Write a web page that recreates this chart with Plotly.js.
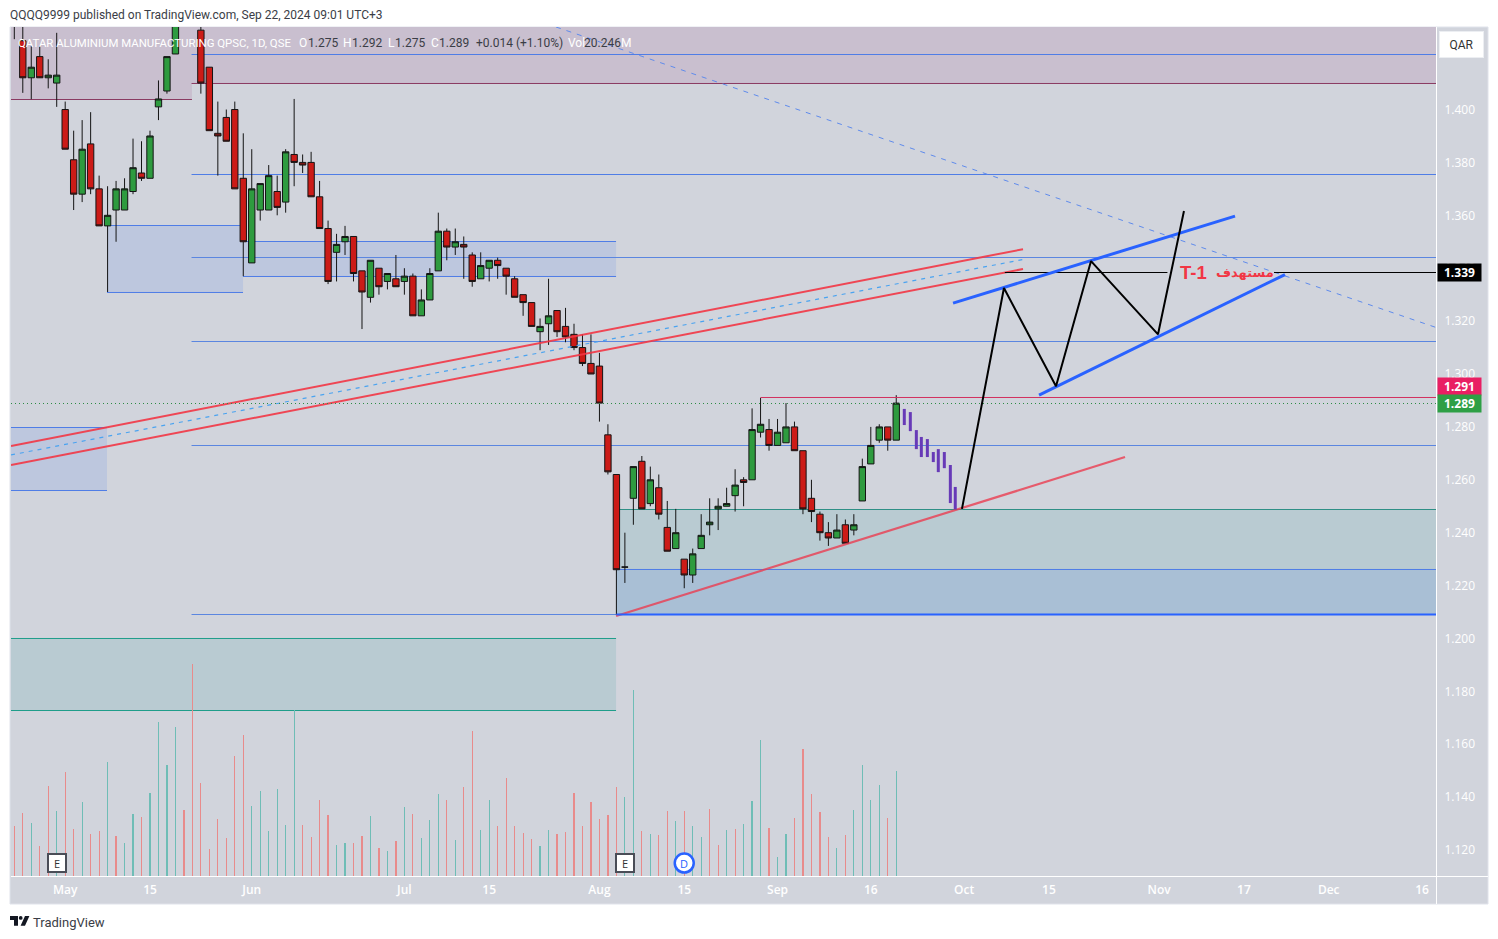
<!DOCTYPE html>
<html><head><meta charset="utf-8">
<script src="https://cdn.plot.ly/plotly-3.0.0.min.js"></script>
<style>html,body{margin:0;padding:0;background:#fff}#c{width:1498px;height:939px}</style>
</head><body><div id="c"></div>
<script>
// --- candles (bar index 0 = first visible session, late April 2024) ---
const opens=[1.440,1.426,1.412,1.420,1.412,1.410,1.400,1.381,1.368,1.387,1.370,1.356,1.362,1.362,1.369,1.376,1.374,1.401,1.407,1.421,1.450,1.445,1.430,1.416,1.391,1.397,1.400,1.374,1.342,1.362,1.362,1.369,1.365,1.383,1.380,1.380,1.367,1.355,1.346,1.350,1.352,1.339,1.329,1.340,1.335,1.336,1.335,1.337,1.322,1.328,1.339,1.354,1.348,1.349,1.345,1.336,1.340,1.343,1.340,1.336,1.330,1.327,1.316,1.319,1.324,1.318,1.315,1.310,1.304,1.303,1.277,1.262,1.227,1.253,1.267,1.251,1.257,1.242,1.234,1.230,1.224,1.234,1.243,1.249,1.250,1.254,1.260,1.260,1.278,1.279,1.273,1.274,1.280,1.271,1.253,1.247,1.240,1.238,1.243,1.241,1.252,1.266,1.275,1.280,1.275];
const highs=[1.445,1.436,1.424,1.424,1.419,1.429,1.403,1.392,1.396,1.399,1.375,1.371,1.373,1.374,1.389,1.388,1.392,1.411,1.420,1.440,1.452,1.447,1.435,1.416,1.403,1.400,1.403,1.391,1.385,1.372,1.379,1.375,1.385,1.404,1.383,1.384,1.373,1.358,1.353,1.356,1.352,1.339,1.343,1.340,1.338,1.345,1.340,1.338,1.332,1.340,1.361,1.355,1.355,1.352,1.346,1.346,1.343,1.344,1.340,1.337,1.330,1.327,1.321,1.336,1.324,1.325,1.319,1.315,1.315,1.308,1.281,1.262,1.240,1.265,1.269,1.265,1.262,1.252,1.249,1.230,1.234,1.247,1.253,1.253,1.257,1.264,1.261,1.287,1.291,1.283,1.283,1.289,1.282,1.271,1.260,1.248,1.244,1.247,1.245,1.247,1.268,1.280,1.281,1.280,1.292];
const lows=[1.4266,1.4063,1.4039,1.4121,1.408,1.401,1.385,1.362,1.365,1.368,1.356,1.331,1.350,1.362,1.368,1.373,1.374,1.396,1.406,1.421,1.435,1.433,1.406,1.392,1.375,1.388,1.370,1.337,1.342,1.358,1.362,1.360,1.361,1.371,1.376,1.367,1.355,1.334,1.335,1.345,1.335,1.317,1.327,1.330,1.332,1.333,1.330,1.322,1.322,1.328,1.339,1.343,1.345,1.336,1.333,1.336,1.335,1.336,1.330,1.329,1.322,1.318,1.309,1.311,1.314,1.312,1.309,1.303,1.300,1.282,1.262,1.209,1.221,1.243,1.249,1.250,1.245,1.233,1.234,1.219,1.221,1.234,1.239,1.241,1.250,1.248,1.250,1.260,1.276,1.271,1.273,1.274,1.271,1.247,1.244,1.237,1.235,1.238,1.236,1.239,1.252,1.266,1.274,1.271,1.275];
const closes=[1.435,1.412,1.416,1.412,1.413,1.413,1.385,1.368,1.385,1.370,1.356,1.360,1.370,1.370,1.378,1.374,1.390,1.404,1.420,1.436,1.440,1.440,1.410,1.392,1.390,1.388,1.370,1.350,1.370,1.372,1.375,1.363,1.384,1.380,1.379,1.367,1.355,1.335,1.349,1.352,1.338,1.331,1.343,1.333,1.338,1.333,1.337,1.322,1.328,1.338,1.354,1.348,1.350,1.348,1.335,1.341,1.343,1.341,1.337,1.329,1.327,1.318,1.318,1.322,1.316,1.314,1.310,1.304,1.300,1.289,1.263,1.226,1.227,1.265,1.249,1.260,1.247,1.233,1.240,1.224,1.232,1.239,1.244,1.250,1.251,1.258,1.259,1.279,1.281,1.273,1.278,1.280,1.271,1.249,1.248,1.240,1.238,1.241,1.236,1.243,1.265,1.273,1.280,1.275,1.289];
// --- volume in millions ---
const volumes=[9.6,12.2,10.2,5.8,17.4,12.5,20.1,9.1,14.3,8.1,8.7,22.0,7.7,6.4,12.0,11.4,16.0,29.7,21.4,28.7,12.7,40.9,17.9,5.2,11.0,7.3,23.1,27.2,13.5,16.4,8.7,16.8,9.8,32.0,9.8,7.5,14.7,11.8,6.0,6.4,6.4,7.7,11.6,5.4,4.8,6.8,13.3,12.0,7.3,10.8,15.8,14.7,6.9,17.2,28.0,8.9,14.7,9.6,18.9,9.6,8.3,7.1,5.8,8.9,8.1,8.5,16.0,9.6,14.3,11.0,11.8,17.2,15.2,35.9,8.7,8.1,7.9,12.5,10.6,12.5,9.6,7.5,12.9,6.0,8.9,9.1,10.0,14.5,26.2,9.3,3.7,8.1,11.2,24.5,15.8,12.3,7.5,5.4,7.9,12.7,21.4,14.7,17.6,11.2,20.2];
const volumeDirs=("rrgrrgrrgr"+"rgrggrgggg"+"rrrrrrrrgg"+"ggggrrrrgg"+"rrgrgrgrgg"+"grgrrggrrr"+"rrggrrrrrr"+"rrggrgrrgr"+"ggrrgrgggr"+"ggrrrrrgrg"+"gggrg").split("");
const volColors={r:"#e88b8b",g:"#6fbdb6"};
// --- axis labels ---
const xTickIndex=[6,16,28,46,56,69,79,90,101,112,122,135,145,155,166];
const xTickLabels=["May","15","Jun","Jul","15","Aug","15","Sep","16","Oct","15","Nov","17","Dec","16"];
const yTicks=[1.12,1.14,1.16,1.18,1.20,1.22,1.24,1.26,1.28,1.30,1.32,1.34,1.36,1.38,1.40];
const xMin=-0.39,xMax=167.65,yMin=1.1102,yMax=1.4312,volMax=163.85;
// --- zones: x0,x1,yTop,yBottom (in bar index / price) ---
const zoneX0=[-0.39,20.95,10.93,26.97,-0.39,-0.39,70.96,70.96];
const zoneX1=[20.95,167.65,26.97,70.96,10.93,70.96,167.65,167.65];
const zoneTop=[1.4312,1.4312,1.35615,1.3501,1.27977,1.2000,1.24877,1.22609];
const zoneBottom=[1.40379,1.40984,1.33082,1.33687,1.25595,1.17277,1.22609,1.20907];
const zoneFill=["#c9bfcf","#c9bfcf","#bdc7de","#bdc7de","#bdc7de","#b9cbd2","#b9cbd2","#a9bfd5"];
// --- horizontal levels ---
const levelY=[1.40379,1.40984,1.4208,1.37543,1.34405,1.31229,1.27297,1.20907,1.35615,1.33082,1.3501,1.33687,1.27977,1.25595,1.2000,1.17277,1.24877,1.22609];
const levelX0=[-0.39,20.9,20.9,20.9,20.9,20.9,20.9,20.9,10.93,10.93,26.97,26.97,-0.39,-0.39,-0.39,-0.39,70.96,70.96];
const levelX1=[20.95,167.65,167.65,167.65,167.65,167.65,167.65,70.96,26.6,26.97,70.96,70.96,10.93,10.93,70.96,70.96,167.65,167.65];
const levelColor=["#8a3a62","#8a3a62","#4f7de6","#4f7de6","#5b86e0","#5b86e0","#5b86e0","#5b86e0","#4f7de6","#4f7de6","#4f7de6","#4f7de6","#4f7de6","#4f7de6","#1f9d8a","#1f9d8a","#2f8f86","#4f7de6"];
// --- drawings ---
const channelX=[-0.39,118.95];
const redUpperY=[1.2728,1.3472];
const redLowerY=[1.2656,1.3397];
const midDashY=[1.2694,1.3433];
const fallDashX=[63.88,167.65];
const fallDashY=[1.4312,1.3176];
const zigzagX=[111.75,116.7,122.84,126.97,134.87,137.93];
const zigzagY=[1.2490,1.3325,1.2954,1.3427,1.3150,1.3616];
const blueTopX=[110.7,143.95],blueTopY=[1.3268,1.3597];
const blueBotX=[120.84,149.84],blueBotY=[1.2920,1.3376];
const redTrendX=[70.96,130.98],redTrendY=[1.2085,1.2686];
const baseLineX=[71,167.65],baseLineY=[1.2091,1.2091];
const targetLeftX=[116.8,135.98],targetRightX=[148.55,167.65],targetY=1.33838;
const resistX=[88,167.65],resistY=[1.29112,1.29112];
const lastX=[-0.39,167.65],lastY=[1.28885,1.28885];
const ghostX=[104.95,105.66,106.37,106.96,107.67,108.37,108.96,109.67,110.38,110.96];
const ghostHigh=[1.2868,1.2856,1.2788,1.2762,1.2754,1.2705,1.2716,1.2705,1.2656,1.2573];
const ghostLow=[1.2807,1.2784,1.2716,1.2686,1.2686,1.2667,1.2629,1.2644,1.2512,1.2488];

const idx=opens.map((_,i)=>i);
const px=p=>(p-11)/1425, py=p=>(876-p)/849;
const line=(x,y,color,width,dash)=>({type:'scatter',mode:'lines',x,y,xaxis:'x',yaxis:'y2',hoverinfo:'skip',showlegend:false,line:{color,width,dash:dash||'solid'}});
const ghostXs=[],ghostYs=[];
ghostX.forEach((x,i)=>{ghostXs.push(x,x,null);ghostYs.push(ghostHigh[i],ghostLow[i],null);});

const traces=[
 {type:'bar',x:idx,y:volumes,xaxis:'x',yaxis:'y',width:0.14,marker:{color:volumeDirs.map(d=>volColors[d]),line:{width:0}},hoverinfo:'skip',showlegend:false},
 {type:'candlestick',x:idx,open:opens,high:highs,low:lows,close:closes,xaxis:'x',yaxis:'y2',showlegend:false,hoverinfo:'skip',
  increasing:{line:{color:'#141414',width:1},fillcolor:'#2e9b3f'},
  decreasing:{line:{color:'#141414',width:1},fillcolor:'#cc1b17'}},
 line(channelX,redUpperY,'rgba(242,54,69,.9)',2),
 line(channelX,redLowerY,'rgba(242,54,69,.9)',2),
 line(channelX,midDashY,'#4aa3f0',1.2,'4px 5px'),
 line(fallDashX,fallDashY,'#5f8bec',1,'5px 6px'),
 line(redTrendX,redTrendY,'rgba(235,60,80,.8)',2.2),
 line(baseLineX,baseLineY,'#2962ff',2),
 line(resistX,resistY,'#d2305f',1),
 line(lastX,lastY,'#2e8b45',1,'1px 3px'),
 line(targetLeftX,[targetY,targetY],'#000',1),
 line(targetRightX,[targetY,targetY],'#000',1),
 line(ghostXs,ghostYs,'#673ab7',3),
 line(blueTopX,blueTopY,'#2962ff',3),
 line(blueBotX,blueBotY,'#2962ff',3),
 line(zigzagX,zigzagY,'#000',2)
];

const shapes=[
 {type:'rect',xref:'paper',yref:'paper',x0:px(10),x1:px(1488),y0:py(904),y1:py(27),fillcolor:'#d1d4dc',line:{color:'#e0e3eb',width:1},layer:'below'}
];
zoneX0.forEach((x,i)=>shapes.push({type:'rect',xref:'x',yref:'y2',x0:x,x1:zoneX1[i],y0:zoneBottom[i],y1:zoneTop[i],fillcolor:zoneFill[i],line:{width:0},layer:'below'}));
levelY.forEach((y,i)=>shapes.push({type:'line',xref:'x',yref:'y2',x0:levelX0[i],x1:levelX1[i],y0:y,y1:y,line:{color:levelColor[i],width:1},layer:'below'}));
// white plot frame
shapes.push({type:'line',xref:'paper',yref:'paper',x0:px(1436.5),x1:px(1436.5),y0:py(904),y1:1,line:{color:'#fff',width:1}});
shapes.push({type:'line',xref:'paper',yref:'paper',x0:0,x1:px(1488),y0:py(876.5),y1:py(876.5),line:{color:'#fff',width:1}});
// dividend marker
shapes.push({type:'circle',xref:'x',yref:'y2',xsizemode:'pixel',ysizemode:'pixel',xanchor:79,yanchor:1.1151,x0:-9.5,x1:9.5,y0:-9.5,y1:9.5,fillcolor:'#fff',line:{color:'#2962ff',width:2.5}});
// TradingView mark
const lx=x=>px(x).toFixed(5),ly=y=>py(y).toFixed(5);
shapes.push({type:'path',xref:'paper',yref:'paper',path:`M${lx(10)},${ly(916)}L${lx(18)},${ly(916)}L${lx(18)},${ly(925.7)}L${lx(14)},${ly(925.7)}L${lx(14)},${ly(920)}L${lx(10)},${ly(920)}Z M${lx(25)},${ly(916)}L${lx(29.4)},${ly(916)}L${lx(25)},${ly(925.7)}L${lx(20.6)},${ly(925.7)}Z`,fillcolor:'#131722',line:{width:0}});
shapes.push({type:'circle',xref:'paper',yref:'paper',x0:px(18.8),x1:px(22.6),y0:py(919.8),y1:py(916),fillcolor:'#131722',line:{width:0}});

const F='"Open Sans",sans-serif',R='Roboto,sans-serif';
const note=(o)=>Object.assign({showarrow:false,xanchor:'left',yanchor:'middle',font:{family:F,size:12,color:'#333'}},o);
const headItem=(x,text,color,size)=>note({xref:'paper',yref:'paper',x:px(x-2),y:py(42.5),text,font:{family:R,size:size||12,color}});
const DK='#3a3d46',WH='#fff';
const annotations=[
 note({xref:'paper',yref:'paper',x:px(8),y:py(15.5),text:'QQQQ9999 published on TradingView.com, Sep 22, 2024 09:01 UTC+3',font:{family:R,size:12,color:DK}}),
 note({xref:'paper',yref:'paper',x:px(31),y:py(922),text:'TradingView',font:{family:R,size:13,color:DK}}),
 headItem(18,'QATAR ALUMINIUM MANUFACTURING QPSC, 1D, QSE',WH,11.4),
 headItem(299,'O',WH),headItem(308,'1.275',DK),headItem(343,'H',WH),headItem(352,'1.292',DK),headItem(388,'L',WH),headItem(395,'1.275',DK),headItem(431,'C',WH),headItem(439,'1.289',DK),
 headItem(476,'+0.014 (+1.10%)',DK),headItem(568,'Vol',WH),headItem(584,'20.246',DK),headItem(621,'M',WH),
 note({xref:'paper',yref:'paper',x:px(1461.5),y:py(44),xanchor:'center',text:'QAR',width:41,height:23,bgcolor:'#fff',bordercolor:'#eceef2',borderwidth:1,font:{family:R,size:12,color:'#333'}}),
 note({xref:'paper',yref:'y2',x:px(1437),y:targetY,text:'<b>1.339</b>',width:41,height:15,bgcolor:'#000',font:{family:F,size:12,color:'#fff'},align:'center',borderpad:1}),
 note({xref:'paper',yref:'y2',x:px(1437),y:1.29112,yshift:11,text:'<b>1.291</b>',width:41,height:15,bgcolor:'#e91e63',font:{family:F,size:12,color:'#fff'},align:'center',borderpad:1}),
 note({xref:'paper',yref:'y2',x:px(1437),y:1.28885,text:'<b>1.289</b>',width:41,height:15,bgcolor:'#2e9f45',font:{family:F,size:12,color:'#fff'},align:'center',borderpad:1}),
 note({xref:'x',yref:'y2',x:137.2,y:targetY,text:'<b>T-1</b>',font:{family:'"Liberation Sans",sans-serif',size:18.5,color:'#f23645'}}),
 note({xref:'x',yref:'y2',x:141.45,y:targetY,text:'<b>مستهدف</b>',font:{family:'"DejaVu Sans",sans-serif',size:13,color:'#f23645'}}),
 note({xref:'x',yref:'y2',x:5,y:1.1151,xanchor:'center',text:'E',width:16,height:16,bgcolor:'#fff',bordercolor:'#4a4d57',borderwidth:2,font:{family:F,size:11,color:'#333'},align:'center',borderpad:0}),
 note({xref:'x',yref:'y2',x:72,y:1.1151,xanchor:'center',text:'E',width:16,height:16,bgcolor:'#fff',bordercolor:'#4a4d57',borderwidth:2,font:{family:F,size:11,color:'#333'},align:'center',borderpad:0}),
 note({xref:'x',yref:'y2',x:79,y:1.1151,xanchor:'center',text:'D',font:{family:F,size:11,color:'#2962ff'}})
];

const layout={
 width:1498,height:939,paper_bgcolor:'#fff',plot_bgcolor:'rgba(0,0,0,0)',
 margin:{l:11,r:62,t:27,b:63,pad:0},showlegend:false,boxgap:0.25,boxgroupgap:0,bargap:0,
 xaxis:{range:[xMin,xMax],type:'linear',tickmode:'array',tickvals:xTickIndex,ticktext:xTickLabels,showgrid:false,zeroline:false,showline:false,ticks:'outside',ticklen:3,tickcolor:'rgba(0,0,0,0)',rangeslider:{visible:false},tickfont:{family:F,size:12,color:'#fff',weight:600},fixedrange:true},
 yaxis:{range:[0,volMax],visible:false,fixedrange:true},
 yaxis2:{range:[yMin,yMax],overlaying:'y',side:'right',anchor:'x',tickmode:'array',tickvals:yTicks,ticktext:yTicks.map(v=>v.toFixed(3)),showgrid:false,zeroline:false,showline:false,ticks:'outside',ticklen:5,tickcolor:'rgba(0,0,0,0)',tickfont:{family:F,size:12,color:'#fff'},fixedrange:true},
 shapes,annotations
};
Plotly.newPlot('c',traces,layout,{displayModeBar:false,staticPlot:true});
</script></body></html>
